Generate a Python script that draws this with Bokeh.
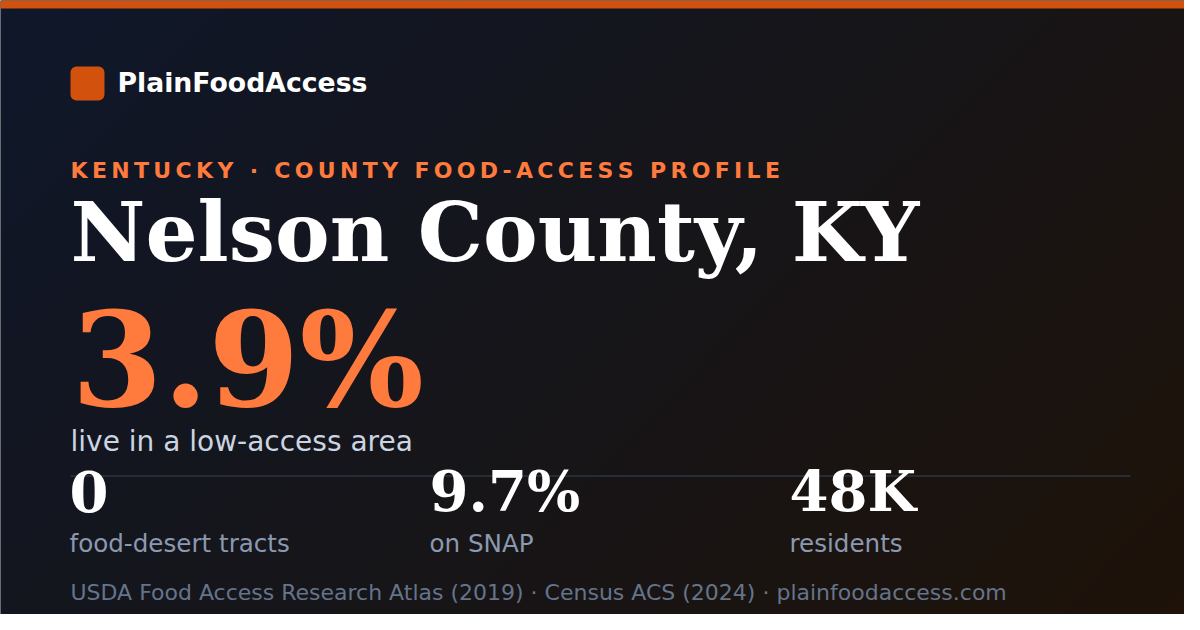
import glob
import struct
import numpy as np
from bokeh.plotting import figure
from bokeh.models import Range1d
from bokeh.core.properties import value
from bokeh.embed import file_html
from bokeh.resources import INLINE

# ---- content ----
brand = "PlainFoodAccess"
kicker = "KENTUCKY · COUNTY FOOD-ACCESS PROFILE"
title = "Nelson County, KY"
headline_value = "3.9%"
headline_label = "live in a low-access area"
stat_values = ["0", "9.7%", "48K"]
stat_labels = ["food-desert tracts", "on SNAP", "residents"]
footer = "USDA Food Access Research Atlas (2019) · Census ACS (2024) · plainfoodaccess.com"

# ---- colours ----
ORANGE = "#ff7a3d"
ORANGE_DARK = "#d1510d"
WHITE = "#ffffff"
SANS = value("DejaVu Sans")
SERIF = value("DejaVu Serif")

W, H = 1184, 614
K_BASE = 0.38  # renderer's alphabetic-baseline shift (fraction of font size)


def base_y(baseline, size):
    return baseline - K_BASE * size


# ---- glyph advances (DejaVu Sans Bold) for the letter-spaced kicker ----
FALLBACK = {" ": 713, "-": 852, "·": 780, "A": 1585, "C": 1499, "D": 1706, "E": 1399,
            "F": 1399, "I": 760, "K": 1589, "L": 1307, "N": 1714, "O": 1741, "P": 1503,
            "R": 1577, "S": 1489, "T": 1403, "U": 1665, "Y": 1483}


def load_advances():
    paths = []
    for pat in ["/usr/share/fonts/**/DejaVuSans-Bold.ttf", "/usr/local/share/fonts/**/DejaVuSans-Bold.ttf",
                "/root/.fonts/**/DejaVuSans-Bold.ttf"]:
        paths += glob.glob(pat, recursive=True)
    try:
        data = open(paths[0], "rb").read()
        nt = struct.unpack(">H", data[4:6])[0]
        tabs = {}
        for i in range(nt):
            tag, _, off, ln = struct.unpack(">4sIII", data[12 + 16 * i:28 + 16 * i])
            tabs[tag.decode("latin1")] = off
        upem = struct.unpack(">H", data[tabs["head"] + 18:tabs["head"] + 20])[0]
        nhm = struct.unpack(">H", data[tabs["hhea"] + 34:tabs["hhea"] + 36])[0]
        hm = tabs["hmtx"]
        co = tabs["cmap"]
        n = struct.unpack(">H", data[co + 2:co + 4])[0]
        sub = None
        for i in range(n):
            pid, eid, off = struct.unpack(">HHI", data[co + 4 + 8 * i:co + 12 + 8 * i])
            if pid == 3 and eid == 1:
                sub = co + off
        seg2 = struct.unpack(">H", data[sub + 6:sub + 8])[0]
        seg = seg2 // 2
        ends = struct.unpack(">%dH" % seg, data[sub + 14:sub + 14 + seg2])
        so = sub + 16 + seg2
        starts = struct.unpack(">%dH" % seg, data[so:so + seg2])
        do = so + seg2
        deltas = struct.unpack(">%dh" % seg, data[do:do + seg2])
        ro = do + seg2
        ros = struct.unpack(">%dH" % seg, data[ro:ro + seg2])

        def gid(c):
            for i in range(seg):
                if starts[i] <= c <= ends[i]:
                    if ros[i] == 0:
                        return (c + deltas[i]) & 0xFFFF
                    a = ro + 2 * i + ros[i] + 2 * (c - starts[i])
                    g = struct.unpack(">H", data[a:a + 2])[0]
                    return (g + deltas[i]) & 0xFFFF if g else 0
            return 0

        def adv(ch):
            g = min(gid(ord(ch)), nhm - 1)
            return struct.unpack(">H", data[hm + 4 * g:hm + 4 * g + 2])[0] / upem
        adv("K")
        return adv
    except Exception:
        return lambda ch: FALLBACK.get(ch, 1400) / 2048


p = figure(width=W, height=H, x_range=Range1d(0, W), y_range=Range1d(H, 0),
           output_backend="svg", toolbar_location=None, min_border=0,
           background_fill_color="#141519", border_fill_color="#141519")
p.axis.visible = False
p.grid.visible = False
p.outline_line_color = None

# background: 135deg gradient navy -> charcoal -> dark brown
nx, ny = 300, 158
gx = np.linspace(0, 1200, nx)[None, :]
gy = np.linspace(0, 630, ny)[:, None]
t = (gx + gy) / 1830.0
stops_t = [0.0, 0.5, 1.0]
stops_c = [np.array([0x0f, 0x17, 0x2a], float), np.array([0x16, 0x15, 0x19], float),
           np.array([0x1e, 0x12, 0x08], float)]
rgb = np.zeros((ny, nx, 3))
for k in range(3):
    ch = np.interp(t, stops_t, [c[k] for c in stops_c])
    rgb[..., k] = ch
img = np.zeros((ny, nx), dtype=np.uint32)
view = img.view(dtype=np.uint8).reshape((ny, nx, 4))
view[..., 0] = np.round(rgb[..., 0]).astype(np.uint8)
view[..., 1] = np.round(rgb[..., 1]).astype(np.uint8)
view[..., 2] = np.round(rgb[..., 2]).astype(np.uint8)
view[..., 3] = 255
p.image_rgba(image=[img], x=0, y=0, dw=1200, dh=630)

# top accent bar
p.quad(left=0, right=W, top=0, bottom=8, fill_color=ORANGE_DARK, line_color=None)

# logo
p.quad(left=70, right=104, top=66, bottom=100, fill_color=ORANGE_DARK, line_color=None, border_radius=6)
p.text(x=[117], y=[base_y(92, 26.7)], text=[brand], text_font=SANS, text_font_style="bold",
       text_font_size="26.7px", text_color=WHITE, text_baseline="alphabetic")

# kicker (letter-spaced 0.2em)
ksize = 22
adv = load_advances()
kx, cx = [], 70.0
for ch in kicker:
    kx.append(cx)
    cx += adv(ch) * ksize + 0.197 * ksize
p.text(x=kx, y=[base_y(178, ksize)] * len(kx), text=list(kicker), text_font=SANS, text_font_style="bold",
       text_font_size="%dpx" % ksize, text_color=ORANGE, text_baseline="alphabetic")

# title
p.text(x=[70], y=[base_y(263, 82)], text=[title], text_font=SERIF, text_font_style="bold",
       text_font_size="82px", text_color=WHITE, text_baseline="alphabetic")

# headline number
p.text(x=[71], y=[base_y(409, 131)], text=[headline_value], text_font=SERIF, text_font_style="bold",
       text_font_size="131px", text_color=ORANGE, text_baseline="alphabetic")
p.text(x=[70], y=[base_y(452, 28)], text=[headline_label], text_font=SANS,
       text_font_size="28px", text_color="#cbd5e1", text_baseline="alphabetic")

# divider
p.segment(x0=[70], y0=[475.5], x1=[1130], y1=[475.5], line_color="#262c37", line_width=2)

# stats
sx = [69, 429, 789]
p.text(x=sx, y=[base_y(512, 56)] * 3, text=stat_values, text_font=SERIF, text_font_style="bold",
       text_font_size="56px", text_color=WHITE, text_baseline="alphabetic")
p.text(x=sx, y=[base_y(552, 24.6)] * 3, text=stat_labels, text_font=SANS,
       text_font_size="24.6px", text_color="#8a99b0", text_baseline="alphabetic")

# footer
p.text(x=[70], y=[base_y(600, 22)], text=[footer], text_font=SANS,
       text_font_size="22px", text_color="#64748b", text_baseline="alphabetic")

open("out.html", "w").write(file_html(p, INLINE))
